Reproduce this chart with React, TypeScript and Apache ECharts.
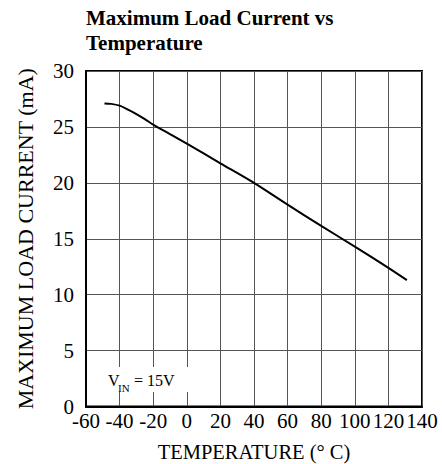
import React, { useEffect, useRef } from "react";
import * as echarts from "echarts";

const temperatures = [-49, -45, -40, -35, -30, -25, -20, -10, 0, 20, 40, 60, 80, 100, 120, 131];
const loadCurrent = [27.1, 27.06, 26.9, 26.55, 26.15, 25.7, 25.2, 24.35, 23.5, 21.75, 20.0, 18.05, 16.15, 14.3, 12.4, 11.3];
const xTicks = { min: -60, max: 140, interval: 20 };
const yTicks = { min: 0, max: 30, interval: 5 };
const titleText = "Maximum Load Current vs\nTemperature";
const xName = "TEMPERATURE (° C)";
const yName = "MAXIMUM LOAD CURRENT (mA)";

const FONT = "'Liberation Serif', 'Times New Roman', serif";

export default function App() {
  const ref = useRef<HTMLDivElement>(null);
  useEffect(() => {
    if (!ref.current) return;
    const chart = echarts.init(ref.current, undefined, { renderer: "svg" });
    const data = temperatures.map((t, i) => [t, loadCurrent[i]]);
    const tickRich = { t: { fontFamily: FONT, fontSize: 21, color: "#000" } };
    chart.setOption({
      animation: false,
      backgroundColor: "#fff",
      textStyle: { fontFamily: FONT },
      title: {
        text: titleText,
        left: 86,
        top: 5,
        padding: 0,
        textStyle: { fontFamily: FONT, fontSize: 21, fontWeight: "bold", color: "#000", lineHeight: 25 },
      },
      grid: {
        left: 86,
        right: 20,
        top: 71,
        bottom: 57.5,
        show: true,
        borderColor: "#000",
        borderWidth: 2,
        containLabel: false,
        outerBoundsMode: "none",
      },
      xAxis: {
        type: "value",
        min: xTicks.min,
        max: xTicks.max,
        interval: xTicks.interval,
        name: `{n|${xName}}`,
        nameLocation: "middle",
        nameGap: 35,
        nameTextStyle: {
          fontFamily: FONT,
          fontSize: 20.5,
          color: "#000",
          lineHeight: 21,
          rich: { n: { fontFamily: FONT, fontSize: 20.5, color: "#000", lineHeight: 21 } },
        },
        axisLine: { show: true, onZero: false, lineStyle: { color: "#000", width: 2 } },
        axisTick: { show: false },
        axisLabel: {
          margin: 4,
          fontFamily: FONT,
          fontSize: 21,
          color: "#000",
          formatter: (v: number) => `{t|${v}}`,
          rich: tickRich,
        },
        splitLine: { show: true, lineStyle: { color: "#555", width: 1 } },
      },
      yAxis: {
        type: "value",
        min: yTicks.min,
        max: yTicks.max,
        interval: yTicks.interval,
        name: `{n|${yName}}`,
        nameLocation: "middle",
        nameGap: 50,
        nameTextStyle: {
          fontFamily: FONT,
          fontSize: 22,
          color: "#000",
          rich: { n: { fontFamily: FONT, fontSize: 22, color: "#000" } },
        },
        axisLine: { show: true, onZero: false, lineStyle: { color: "#000", width: 2 } },
        axisTick: { show: false },
        axisLabel: {
          margin: 12,
          fontFamily: FONT,
          fontSize: 21,
          color: "#000",
          formatter: (v: number) => `{t|${v}}`,
          rich: tickRich,
        },
        splitLine: { show: true, lineStyle: { color: "#555", width: 1 } },
      },
      series: [
        {
          type: "line",
          data,
          smooth: 0.3,
          showSymbol: false,
          lineStyle: { color: "#000", width: 2 },
        },
      ],
      graphic: [
        { type: "rect", shape: { x: 100, y: 367, width: 88, height: 25 }, style: { fill: "#fff" }, z: 100 },
        {
          type: "text",
          x: 108,
          y: 388,
          style: { text: "V", font: `16px ${FONT}`, fill: "#000", verticalAlign: "bottom" },
          z: 101,
        },
        {
          type: "text",
          x: 118,
          y: 393,
          style: { text: "IN", font: `11px ${FONT}`, fill: "#000", verticalAlign: "bottom" },
          z: 101,
        },
        {
          type: "text",
          x: 130,
          y: 388,
          style: { text: " = 15V", font: `16px ${FONT}`, fill: "#000", verticalAlign: "bottom" },
          z: 101,
        },
      ],
    });
    return () => chart.dispose();
  }, []);
  return <div ref={ref} style={{ width: 442, height: 464, position: "absolute", left: 0, top: 0 }} />;
}
